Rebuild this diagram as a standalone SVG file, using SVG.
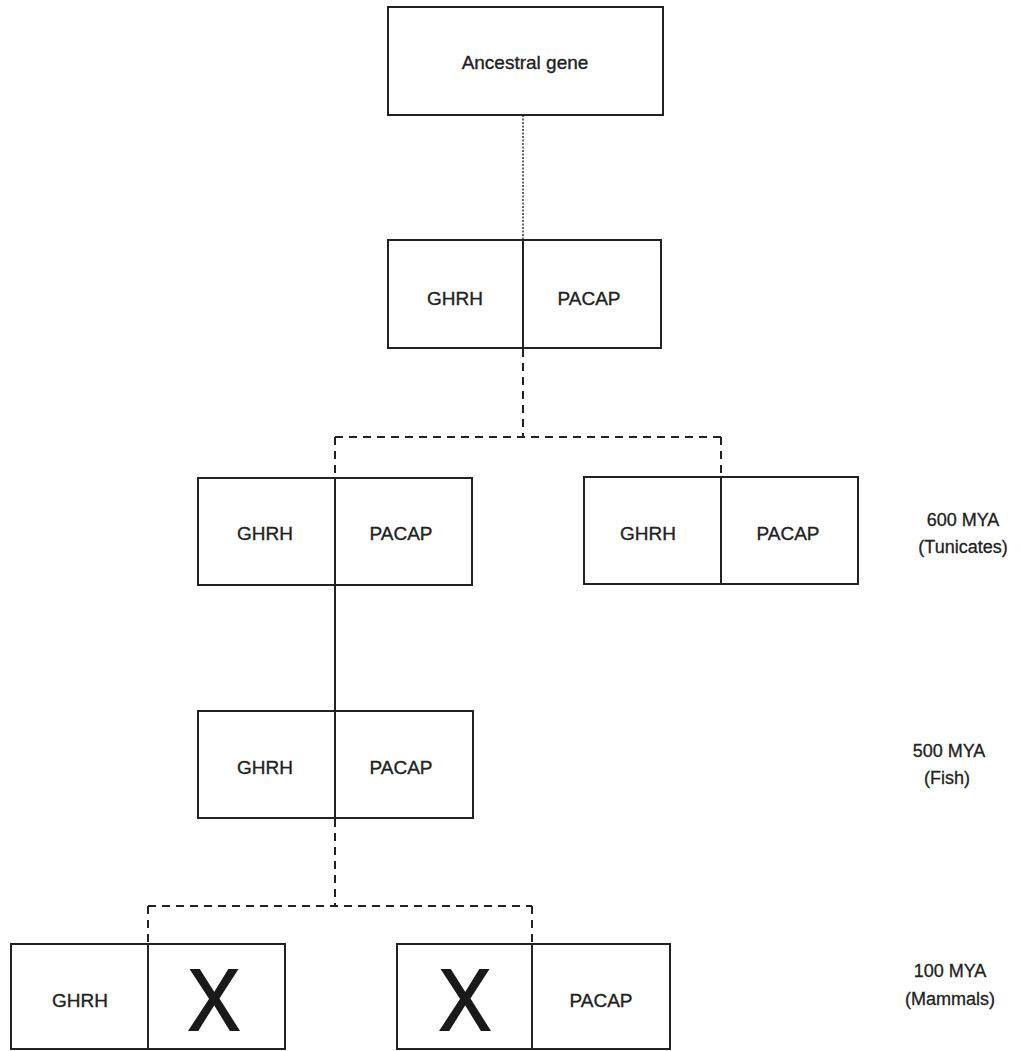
<svg xmlns="http://www.w3.org/2000/svg" width="1021" height="1051" viewBox="0 0 1021 1051">
<style>
.box{fill:none;stroke:#222;stroke-width:2}
.div{stroke:#222;stroke-width:2}
.t{font-family:"Liberation Sans",Arial,sans-serif;font-size:19px;fill:#222;stroke:#222;stroke-width:0.35;text-anchor:middle}
.lbl{font-family:"Liberation Sans",Arial,sans-serif;font-size:18px;fill:#222;stroke:#222;stroke-width:0.3;text-anchor:middle}
.x{font-family:"Liberation Sans",Arial,sans-serif;font-size:88px;fill:#1a1a1a;stroke:#1a1a1a;stroke-width:2;text-anchor:middle}
.dash{fill:none;stroke:#222;stroke-width:2;stroke-dasharray:8 6}
.dot{fill:none;stroke:#333;stroke-width:1.5;stroke-dasharray:2 1.5}
.solid{fill:none;stroke:#222;stroke-width:2}
</style>
<rect width="1021" height="1051" fill="#fff"/>
<g id="connectors">
<line class="dot" x1="523" y1="115" x2="523" y2="240"/>
<path class="dash" d="M523 349 V437 M335 437 H721 M335 437 V478 M721 437 V477"/>
<line class="solid" x1="335" y1="585" x2="335" y2="711"/>
<path class="dash" d="M335 819 V906 M148 906 H532 M148 906 V944 M532 906 V944"/>
</g>
<g id="ancestral">
<rect class="box" x="388" y="7" width="275" height="108"/>
<text class="t" x="525" y="69">Ancestral gene</text>
</g>
<g id="gene-split">
<rect class="box" x="388" y="240" width="273" height="108"/>
<line class="div" x1="523" y1="240" x2="523" y2="352"/>
<text class="t" x="455" y="305">GHRH</text>
<text class="t" x="589" y="305">PACAP</text>
</g>
<g id="tunicate-a">
<rect class="box" x="198" y="478" width="274" height="107"/>
<line class="div" x1="335" y1="478" x2="335" y2="585"/>
<text class="t" x="265" y="540">GHRH</text>
<text class="t" x="401" y="540">PACAP</text>
</g>
<g id="tunicate-b">
<rect class="box" x="584" y="477" width="274" height="107"/>
<line class="div" x1="721" y1="477" x2="721" y2="584"/>
<text class="t" x="648" y="540">GHRH</text>
<text class="t" x="788" y="540">PACAP</text>
</g>
<g id="fish">
<rect class="box" x="198" y="711" width="275" height="107"/>
<line class="div" x1="335" y1="711" x2="335" y2="821"/>
<text class="t" x="265" y="774">GHRH</text>
<text class="t" x="401" y="774">PACAP</text>
</g>
<g id="mammal-a">
<rect class="box" x="11" y="944" width="274" height="105"/>
<line class="div" x1="148" y1="944" x2="148" y2="1049"/>
<text class="t" x="80" y="1007">GHRH</text>
<text class="x" x="214" y="1030" textLength="52" lengthAdjust="spacingAndGlyphs">X</text>
</g>
<g id="mammal-b">
<rect class="box" x="397" y="944" width="273" height="105"/>
<line class="div" x1="532" y1="944" x2="532" y2="1049"/>
<text class="x" x="465" y="1030" textLength="52" lengthAdjust="spacingAndGlyphs">X</text>
<text class="t" x="601" y="1007">PACAP</text>
</g>
<g id="labels">
<text class="lbl" x="963" y="526">600 MYA</text>
<text class="lbl" x="963" y="553">(Tunicates)</text>
<text class="lbl" x="949" y="757">500 MYA</text>
<text class="lbl" x="947" y="784">(Fish)</text>
<text class="lbl" x="950" y="977">100 MYA</text>
<text class="lbl" x="950" y="1005">(Mammals)</text>
</g>
</svg>
